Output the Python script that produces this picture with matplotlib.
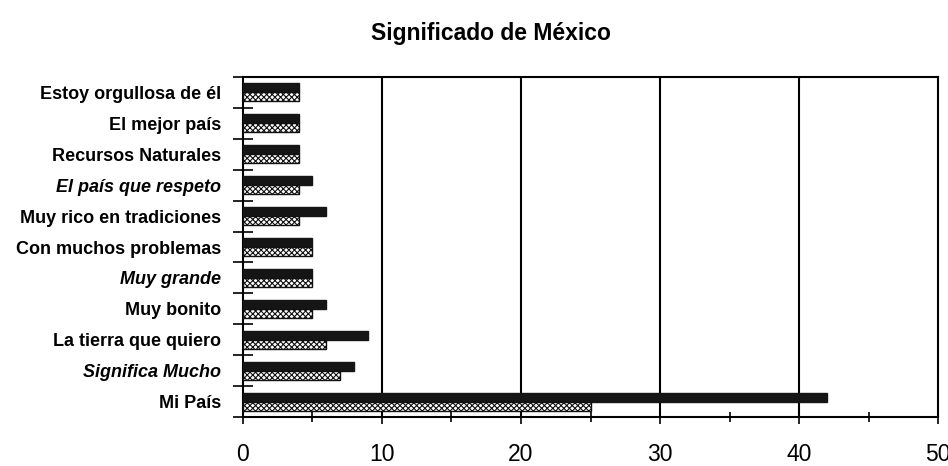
import matplotlib
matplotlib.use("Agg")
import matplotlib.pyplot as plt
import numpy as np
from matplotlib.ticker import FixedLocator, NullFormatter, FixedFormatter

categories = ["Mi País", "Significa Mucho", "La tierra que quiero", "Muy bonito",
              "Muy grande", "Con muchos problemas", "Muy rico en tradiciones",
              "El país que respeto", "Recursos Naturales", "El mejor país",
              "Estoy orgullosa de él"]
italic = {"Significa Mucho", "Muy grande", "El país que respeto"}
serie_a = [42, 8, 9, 6, 5, 5, 6, 5, 4, 4, 4]
serie_b = [25, 7, 6, 5, 5, 5, 4, 4, 4, 4, 4]
xticks = [0, 10, 20, 30, 40, 50]

plt.rcParams['font.family'] = ['Liberation Sans', 'DejaVu Sans']
plt.rcParams['hatch.linewidth'] = 0.8

fig = plt.figure(figsize=(9.48, 4.66), dpi=100)
ax = fig.add_axes([0.2563, 0.105, 0.7332, 0.7298])

y = np.arange(len(categories))
h = 0.29
ax.barh(y + h / 2, serie_a, height=h, color='#151515', edgecolor='#151515',
        hatch='.....', linewidth=1.0, zorder=3)
ax.barh(y - h / 2, serie_b, height=h, color='white', edgecolor='#111111',
        hatch='xxxxxx', linewidth=1.0, zorder=3)

ax.set_xlim(0, 50)
ax.set_ylim(-0.5, len(categories) - 0.5)

for v in xticks[1:-1]:
    ax.axvline(v, color='black', linewidth=1.5, zorder=2)

ax.xaxis.set_major_locator(FixedLocator(xticks))
ax.xaxis.set_minor_locator(FixedLocator([5, 15, 25, 35, 45]))
ax.set_xticklabels([str(v) for v in xticks], fontsize=16.5)
ax.tick_params(axis='x', which='major', direction='inout', length=10, width=1.2, pad=14)
ax.tick_params(axis='x', which='minor', direction='inout', length=7, width=1.2)

ax.yaxis.set_major_locator(FixedLocator(np.arange(-0.5, len(categories), 1.0)))
ax.yaxis.set_major_formatter(NullFormatter())
ax.yaxis.set_minor_locator(FixedLocator(y))
ax.yaxis.set_minor_formatter(FixedFormatter(categories))
ax.tick_params(axis='y', which='major', direction='inout', length=15, width=1.2)
ax.tick_params(axis='y', which='minor', length=0, pad=16, labelsize=13)
for lbl in ax.yaxis.get_minorticklabels():
    lbl.set_fontweight('bold')
    if lbl.get_text() in italic:
        lbl.set_fontstyle('italic')

for s in ax.spines.values():
    s.set_linewidth(1.5)
    s.set_color('black')

fig.text(0.518, 0.928, "Significado de México", ha='center', va='center',
         fontsize=16.5, fontweight='bold')

fig.savefig("out.png", dpi=100)
